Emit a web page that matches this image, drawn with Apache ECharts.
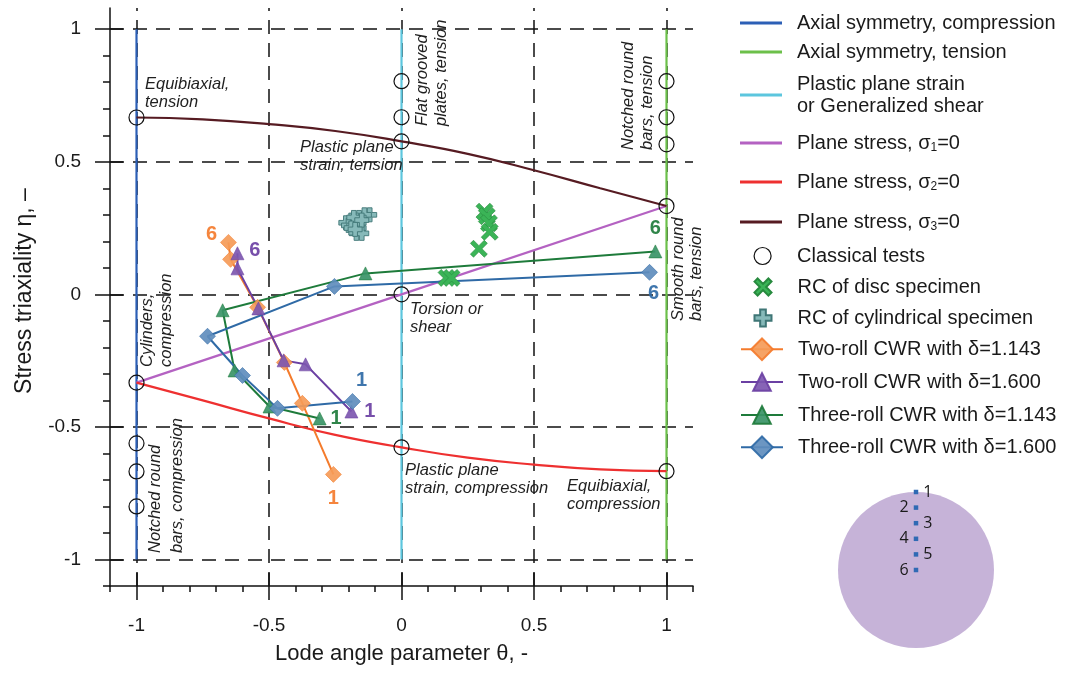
<!DOCTYPE html>
<html>
<head>
<meta charset="utf-8">
<script src="https://cdn.jsdelivr.net/npm/echarts@6/dist/echarts.min.js"></script>
<style>
  html, body { margin: 0; padding: 0; background: #fff; }
  #chart { width: 1071px; height: 673px; }
</style>
</head>
<body>
<div id="chart"></div>
<script>
// ---------- axis ticks ----------
const xMajorTicks = [-1, -0.5, 0, 0.5, 1];
const yMajorTicks = [-1, -0.5, 0, 0.5, 1];
const xMinorTicks = [-1.1, -0.9, -0.8, -0.7, -0.6, -0.4, -0.3, -0.2, -0.1, 0.1, 0.2, 0.3, 0.4, 0.6, 0.7, 0.8, 0.9, 1.1];
const yMinorTicks = [-1.1, -0.9, -0.8, -0.7, -0.6, -0.4, -0.3, -0.2, -0.1, 0.1, 0.2, 0.3, 0.4, 0.6, 0.7, 0.8, 0.9];

// ---------- characteristic stress states ----------
const axialCompTheta = [-1, -1];
const axialCompEta = [-1, 1];
const axialTensTheta = [1, 1];
const axialTensEta = [-1, 1];
const planeStrainTheta = [0, 0];
const planeStrainEta = [-1, 1];
const sigma1Theta = [-1, 0, 1];
const sigma1Eta = [-0.333, 0, 0.333];
const sigma2Theta = [-1, -0.75, -0.5, -0.25, 0, 0.25, 0.5, 0.75, 1];
const sigma2Eta = [-0.333, -0.40, -0.468, -0.53, -0.577, -0.616, -0.642, -0.66, -0.667];
const sigma3Theta = [-1, -0.75, -0.5, -0.25, 0, 0.25, 0.5, 0.75, 1];
const sigma3Eta = [0.667, 0.66, 0.642, 0.616, 0.577, 0.53, 0.468, 0.40, 0.333];

// ---------- classical tests ----------
const classicTheta = [-1, -1, -1, -1, -1, 0, 0, 0, 0, 0, 1, 1, 1, 1, 1];
const classicEta = [0.667, -0.333, -0.562, -0.668, -0.80, 0.804, 0.668, 0.577, 0, -0.577, 0.804, 0.668, 0.566, 0.333, -0.667];

// ---------- rotary compression (RC) ----------
const discTheta = [0.313, 0.322, 0.330, 0.333, 0.292, 0.170, 0.189];
const discEta = [0.312, 0.295, 0.268, 0.236, 0.172, 0.062, 0.062];
const cylTheta = [-0.12, -0.14, -0.16, -0.17, -0.19, -0.21, -0.20, -0.18, -0.16, -0.17, -0.15, -0.16, -0.18, -0.19, -0.15, -0.175];
const cylEta = [0.30, 0.30, 0.29, 0.28, 0.28, 0.27, 0.26, 0.26, 0.25, 0.23, 0.23, 0.27, 0.29, 0.25, 0.28, 0.245];

// ---------- cross wedge rolling (points 1..6) ----------
const twoRoll1143Theta = [-0.257, -0.374, -0.442, -0.543, -0.645, -0.653];
const twoRoll1143Eta = [-0.679, -0.411, -0.257, -0.049, 0.132, 0.196];
const twoRoll1600Theta = [-0.189, -0.362, -0.445, -0.540, -0.619, -0.619];
const twoRoll1600Eta = [-0.442, -0.264, -0.249, -0.053, 0.098, 0.155];
const threeRoll1143Theta = [-0.309, -0.498, -0.630, -0.675, -0.136, 0.958];
const threeRoll1143Eta = [-0.468, -0.423, -0.287, -0.060, 0.079, 0.162];
const threeRoll1600Theta = [-0.185, -0.468, -0.600, -0.732, -0.253, 0.936];
const threeRoll1600Eta = [-0.404, -0.430, -0.306, -0.158, 0.030, 0.083];

// ---------- measuring points across the section (relative radius) ----------
const pointLabels = ['1', '2', '3', '4', '5', '6'];
const pointRadius = [1.0, 0.8, 0.6, 0.4, 0.2, 0.0];

// ---------- helpers ----------
const FONT = '"Liberation Sans", Arial, Helvetica, sans-serif';
const pairs = (xs, ys) => xs.map((x, i) => [x, ys[i]]);
const PLUS = 'path://M-1,-3H1V-1H3V1H1V3H-1V1H-3V-1H-1Z';
const CROSS = 'path://M-3,-1.9L-1.9,-3L0,-1.1L1.9,-3L3,-1.9L1.1,0L3,1.9L1.9,3L0,1.1L-1.9,3L-3,1.9L-1.1,0Z';

function endLabel(text, color, position, extra) {
  return Object.assign({
    show: true, formatter: text, position: position, distance: 5,
    color: color, fontFamily: FONT, fontWeight: 'bold', fontSize: 20
  }, extra || {});
}
function cwrData(th, et, first, last) {
  return th.map((t, i) => {
    const item = { value: [t, et[i]] };
    if (i === 0) item.label = first;
    if (i === th.length - 1) item.label = last;
    return item;
  });
}
function refLine(name, xs, ys, color, smooth) {
  return {
    name: name, type: 'line', data: pairs(xs, ys), symbol: 'none', smooth: !!smooth,
    lineStyle: { color: color, width: 2.2 }, itemStyle: { color: color }, z: 3, silent: true
  };
}
function cwrSeries(name, th, et, lineColor, fill, symbol, size, first, last) {
  return {
    name: name, type: 'line', data: cwrData(th, et, first, last),
    symbol: symbol, symbolSize: size,
    lineStyle: { color: lineColor, width: 2 },
    itemStyle: { color: fill, borderColor: lineColor, borderWidth: 0.6, opacity: 0.92 },
    z: 6
  };
}

const C = {
  axialComp: '#2c5fb6', axialTens: '#6cc04a', planeStrain: '#5cc6de',
  s1: '#b462c2', s2: '#ee3030', s3: '#561b22',
  orange: '#f47b2c', orangeFill: '#f59b58',
  purple: '#6b40a3', purpleFill: '#7d57b0',
  green: '#1e7b3b', greenFill: '#3a9467',
  blue: '#2f6aa6', blueFill: '#5f8dbd',
  disc: '#3bb457', discEdge: '#278a3e',
  cyl: '#86b9b9', cylEdge: '#3f7676'
};

const NAMES = {
  axialComp: 'Axial symmetry, compression',
  axialTens: 'Axial symmetry, tension',
  planeStrain: 'Plastic plane strain or Generalized shear',
  s1: 'Plane stress, σ1=0',
  s2: 'Plane stress, σ2=0',
  s3: 'Plane stress, σ3=0',
  classic: 'Classical tests',
  disc: 'RC of disc specimen',
  cyl: 'RC of cylindrical specimen',
  two1143: 'Two-roll CWR with δ=1.143',
  two1600: 'Two-roll CWR with δ=1.600',
  three1143: 'Three-roll CWR with δ=1.143',
  three1600: 'Three-roll CWR with δ=1.600'
};

const legendRich = {
  t: { fontSize: 20, lineHeight: 22, color: '#1a1a1a', fontFamily: FONT },
  sub: { fontSize: 12, lineHeight: 12, color: '#1a1a1a', fontFamily: FONT, verticalAlign: 'bottom' }
};
function legendText(name) {
  if (name === NAMES.planeStrain) return '{t|Plastic plane strain}\n{t|or Generalized shear}';
  const m = name.match(/^(Plane stress, σ)(\d)(=0)$/);
  if (m) return '{t|' + m[1] + '}{sub|' + m[2] + '}{t|' + m[3] + '}';
  return '{t|' + name + '}';
}

// one legend row per entry so each row sits at its own height
const legendRows = [
  { key: 'axialComp', center: 24, icon: 'rect', h: 3 },
  { key: 'axialTens', center: 53, icon: 'rect', h: 3 },
  { key: 'planeStrain', center: 96, icon: 'rect', h: 3, lines: 2 },
  { key: 's1', center: 144, icon: 'rect', h: 3 },
  { key: 's2', center: 183, icon: 'rect', h: 3 },
  { key: 's3', center: 223, icon: 'rect', h: 3 },
  { key: 'classic', center: 257, h: 17, symbolOnly: true },
  { key: 'disc', center: 288, h: 17, symbolOnly: true, icon: CROSS },
  { key: 'cyl', center: 319, h: 17, symbolOnly: true },
  { key: 'two1143', center: 351, h: 27 },
  { key: 'two1600', center: 383, h: 22 },
  { key: 'three1143', center: 416, h: 22 },
  { key: 'three1600', center: 449, h: 27 }
];
const legends = legendRows.map(r => {
  const textH = 22 * (r.lines || 1);
  const boxH = Math.max(textH, r.h);
  const item = { name: NAMES[r.key] };
  if (r.icon) item.icon = r.icon;
  if (r.key === 'classic') item.itemStyle = { color: 'rgba(0,0,0,0)', borderColor: '#111', borderWidth: 1.2 };
  return {
    data: [item], left: r.symbolOnly ? 753.5 : 740, top: r.center - boxH / 2, padding: 0,
    orient: 'vertical', itemWidth: r.symbolOnly ? r.h : 42, itemHeight: r.h, selectedMode: false,
    formatter: legendText,
    textStyle: { rich: legendRich, padding: [0, 0, 0, r.symbolOnly ? 21 : 10] }
  };
});

// ---------- annotations ----------
const ANN_FONT = 'italic 16.5px ' + FONT;
function note(text, x, y, rot, lh) {
  return {
    type: 'text', x: x, y: y, rotation: rot || 0, silent: true, z: 20,
    style: { text: text, font: ANN_FONT, fill: '#1f1f1f', lineHeight: lh || 18 }
  };
}
const V = Math.PI / 2;
const notes = [
  note('Equibiaxial,\ntension', 145, 75),
  note('Plastic plane\nstrain, tension', 300, 138),
  note('Torsion or\nshear', 410, 300),
  note('Plastic plane\nstrain, compression', 405, 461),
  note('Equibiaxial,\ncompression', 567, 477),
  note('Flat grooved\nplates, tension', 413, 126, V, 19),
  note('Notched round\nbars, tension', 619, 150, V, 19),
  note('Smooth round\nbars, tension', 669, 321, V, 18),
  note('Cylinders,\ncompression', 138, 367, V, 19),
  note('Notched round\nbars, compression', 144, 553, V, 22)
];

// ---------- axes ----------
const GRID = { left: 110, top: 8, width: 583, height: 578, outerBoundsMode: 'none' };
const X_RANGE = { min: -1.1, max: 1.1 };
const Y_RANGE = { min: -1.1, max: 1.08 };
const AX = '#111';

function xAxisFor(gridIndex, tickVals, len, inside, main) {
  return Object.assign({
    type: 'value', gridIndex: gridIndex, position: 'bottom',
    axisLine: { show: !!main, onZero: false, lineStyle: { color: AX, width: 1.5 } },
    axisTick: { show: true, customValues: tickVals, length: len, inside: inside, lineStyle: { color: AX, width: 1.5 } },
    axisLabel: main ? { customValues: xMajorTicks, fontSize: 19, fontFamily: FONT, color: '#1a1a1a', margin: 30 } : { show: false },
    splitLine: { show: false }, minorTick: { show: false },
    name: main ? 'Lode angle parameter θ, -' : '', nameLocation: 'middle', nameGap: 57,
    nameTextStyle: { fontSize: 22, fontFamily: FONT, color: '#1a1a1a' }
  }, X_RANGE);
}
function yAxisFor(gridIndex, tickVals, len, inside, main) {
  return Object.assign({
    type: 'value', gridIndex: gridIndex, position: 'left',
    axisLine: { show: !!main, onZero: false, lineStyle: { color: AX, width: 1.5 } },
    axisTick: { show: true, customValues: tickVals, length: len, inside: inside, lineStyle: { color: AX, width: 1.5 } },
    axisLabel: main ? { customValues: yMajorTicks, fontSize: 19, fontFamily: FONT, color: '#1a1a1a', margin: 29 } : { show: false },
    splitLine: { show: false }, minorTick: { show: false },
    name: main ? 'Stress triaxiality η, –' : '', nameLocation: 'middle', nameGap: 74,
    nameTextStyle: { fontSize: 23, fontFamily: FONT, color: '#1a1a1a', padding: [0, 0, 0, 12] }
  }, Y_RANGE);
}

const option = {
  animation: false,
  backgroundColor: '#ffffff',
  textStyle: { fontFamily: FONT },
  grid: [
    Object.assign({}, GRID),
    Object.assign({}, GRID),
    Object.assign({}, GRID),
    { left: 838, top: 492, width: 156, height: 156, outerBoundsMode: 'none' }
  ],
  xAxis: [
    xAxisFor(0, xMajorTicks, 14, false, true),
    xAxisFor(1, xMajorTicks, 13, true, false),
    xAxisFor(2, xMinorTicks, 6, false, false),
    { type: 'value', gridIndex: 3, min: -1, max: 1, show: false }
  ],
  yAxis: [
    yAxisFor(0, yMajorTicks, 15, false, true),
    yAxisFor(1, yMajorTicks, 13, true, false),
    yAxisFor(2, yMinorTicks, 7, false, false),
    { type: 'value', gridIndex: 3, min: -1, max: 1, show: false }
  ],
  legend: legends,
  graphic: notes,
  series: [
    // dashed reference grid, kept underneath the coloured lines
    {
      type: 'line', data: [], silent: true, z: 1,
      markLine: {
        z: 1, silent: true, symbol: ['none', 'none'], label: { show: false },
        lineStyle: { color: '#111', type: [14, 9], width: 1.5 },
        emphasis: { disabled: true },
        data: xMajorTicks.map(v => ({ xAxis: v })).concat(yMajorTicks.map(v => ({ yAxis: v })))
      }
    },
    refLine(NAMES.axialComp, axialCompTheta, axialCompEta, C.axialComp),
    refLine(NAMES.axialTens, axialTensTheta, axialTensEta, C.axialTens),
    refLine(NAMES.planeStrain, planeStrainTheta, planeStrainEta, C.planeStrain),
    refLine(NAMES.s1, sigma1Theta, sigma1Eta, C.s1),
    refLine(NAMES.s2, sigma2Theta, sigma2Eta, C.s2, true),
    refLine(NAMES.s3, sigma3Theta, sigma3Eta, C.s3, true),
    {
      name: NAMES.classic, type: 'scatter', data: pairs(classicTheta, classicEta),
      symbol: 'circle', symbolSize: 15, z: 8,
      itemStyle: { color: 'rgba(0,0,0,0)', borderColor: '#111', borderWidth: 1.2, opacity: 1 }
    },
    {
      name: NAMES.disc, type: 'scatter', data: pairs(discTheta, discEta),
      symbol: CROSS, symbolSize: 17, z: 7,
      itemStyle: { color: C.disc, borderColor: C.discEdge, borderWidth: 0.6, opacity: 1 }
    },
    {
      name: NAMES.cyl, type: 'scatter', data: pairs(cylTheta, cylEta),
      symbol: PLUS, symbolSize: 14, z: 7,
      itemStyle: { color: C.cyl, borderColor: C.cylEdge, borderWidth: 0.9, opacity: 1 }
    },
    cwrSeries(NAMES.two1143, twoRoll1143Theta, twoRoll1143Eta, C.orange, C.orangeFill, 'diamond', 16,
      endLabel('1', C.orange, 'bottom', { distance: 6 }),
      endLabel('6', C.orange, 'left', { offset: [2, -8] })),
    cwrSeries(NAMES.two1600, twoRoll1600Theta, twoRoll1600Eta, C.purple, C.purpleFill, 'triangle', 13,
      endLabel('1', C.purple, 'right', { distance: 6 }),
      endLabel('6', C.purple, 'right', { offset: [0, -3] })),
    cwrSeries(NAMES.three1143, threeRoll1143Theta, threeRoll1143Eta, C.green, C.greenFill, 'triangle', 13,
      endLabel('1', C.green, 'right', { distance: 4 }),
      endLabel('6', C.green, 'top', { distance: 6 })),
    cwrSeries(NAMES.three1600, threeRoll1600Theta, threeRoll1600Eta, C.blue, C.blueFill, 'diamond', 16,
      endLabel('1', C.blue, 'top', { offset: [9, 2] }),
      endLabel('6', C.blue, 'bottom', { offset: [4, -2] })),
    // cross-section with measuring points
    {
      type: 'scatter', xAxisIndex: 3, yAxisIndex: 3, data: [[0, 0]], silent: true,
      symbol: 'circle', symbolSize: 156, itemStyle: { color: '#c6b3d8', opacity: 1 }, z: 2
    },
    {
      type: 'scatter', xAxisIndex: 3, yAxisIndex: 3, silent: true, z: 3,
      symbol: 'rect', symbolSize: 4.5, itemStyle: { color: '#2f6ab4', opacity: 1 },
      data: pointRadius.map((r, i) => ({
        value: [0, r],
        label: {
          show: true, formatter: pointLabels[i], position: i % 2 === 0 ? 'right' : 'left',
          distance: 5, fontSize: 16, color: '#1a1a1a', fontFamily: '"Open Sans", ' + FONT
        }
      }))
    }
  ]
};

const chart = echarts.init(document.getElementById('chart'), null, { renderer: 'canvas' });
chart.setOption(option);
</script>
</body>
</html>
